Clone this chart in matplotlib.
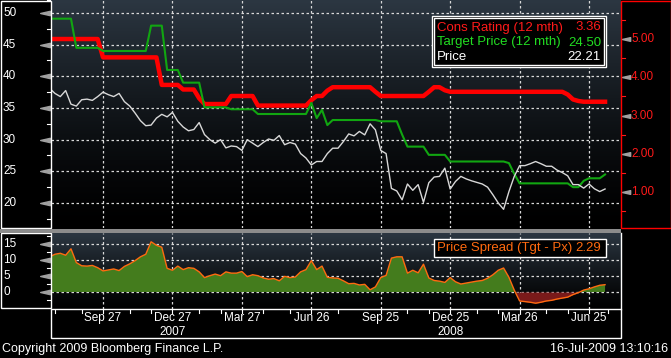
import numpy as np
import pandas as pd
import matplotlib
matplotlib.use('Agg')
import matplotlib.pyplot as plt
import matplotlib.dates as mdates
import matplotlib.transforms as mtrans
from matplotlib.patches import Rectangle
from matplotlib.path import Path

plt.rcParams['font.family'] = ['Liberation Sans', 'DejaVu Sans']

W, H = 671, 358

# weekly data (Thursdays)
dates = pd.date_range('2007-07-19', periods=105, freq='7D')

price = [38.1, 37.3, 36.8, 37.75, 35.6, 35.3, 36.3, 36.4, 36.2, 36.8,
         37.5, 37.1, 36.8, 37.3, 36.0, 35.3, 34.2, 33.0, 32.2, 32.3,
         33.4, 34.0, 33.6, 34.3, 32.9, 32.0, 31.4, 31.6, 32.7, 30.8,
         30.0, 29.45, 30.0, 28.7, 29.0, 28.9, 28.3, 30.0, 29.45, 28.9,
         29.55, 30.1, 29.9, 30.65, 29.2, 29.55, 29.3, 27.8, 27.1, 26.0,
         26.55, 26.55, 27.8, 28.65, 28.65, 29.7, 30.9, 30.6, 31.3, 30.75,
         32.5, 31.55, 28.3, 27.8, 22.3, 21.9, 20.5, 23.0, 22.0, 22.9,
         20.1, 23.2, 24.1, 24.2, 25.5, 22.2, 23.4, 24.2, 23.8, 23.5,
         23.25, 23.0, 22.5, 21.3, 20.0, 19.0, 21.8, 24.2, 25.9, 25.9,
         26.2, 26.55, 26.2, 25.8, 25.8, 25.2, 24.8, 24.3, 22.9, 22.9,
         22.35, 23.0, 22.25, 21.8, 22.21]

target = [49.1, 49.1, 49.1, 49.1, 49.1, 44.5, 44.5, 44.5, 44.5, 44.5,
          44.0, 44.0, 44.0, 44.0, 44.0, 44.0, 44.0, 44.0, 44.0, 48.0,
          48.0, 48.0, 41.0, 41.0, 41.0, 39.0, 39.0, 39.0, 39.0, 35.1,
          35.1, 35.1, 35.1, 35.1, 34.8, 34.8, 34.8, 34.8, 34.8, 34.05,
          34.05, 34.05, 34.05, 34.05, 34.05, 34.05, 34.05, 34.05, 34.05, 35.8,
          33.4, 34.7, 32.3, 33.1, 33.1, 33.1, 33.1, 33.1, 33.1, 33.1,
          33.1, 33.1, 32.9, 32.9, 32.9, 32.9, 30.8, 28.9, 28.9, 28.9,
          28.9, 27.6, 27.6, 27.6, 27.6, 26.55, 26.55, 26.55, 26.55, 26.55,
          26.55, 26.55, 26.55, 26.55, 26.55, 26.55, 26.3, 24.6, 23.1, 23.1,
          23.1, 23.1, 23.1, 23.1, 23.1, 23.1, 23.1, 23.1, 22.5, 22.5,
          23.5, 23.9, 23.9, 23.9, 24.5]

rating = [5.0, 5.0, 5.0, 5.0, 5.0, 5.0, 5.0, 5.0, 5.0, 5.0,
          4.52, 4.52, 4.52, 4.52, 4.52, 4.52, 4.52, 4.52, 4.52, 4.52,
          4.52, 3.80, 3.80, 3.80, 3.80, 3.68, 3.68, 3.68, 3.45, 3.30,
          3.30, 3.30, 3.30, 3.30, 3.51, 3.51, 3.51, 3.51, 3.51, 3.26,
          3.26, 3.26, 3.26, 3.26, 3.26, 3.26, 3.26, 3.26, 3.26, 3.40,
          3.51, 3.51, 3.65, 3.74, 3.74, 3.74, 3.74, 3.74, 3.74, 3.74,
          3.74, 3.62, 3.51, 3.51, 3.51, 3.51, 3.51, 3.51, 3.51, 3.51,
          3.51, 3.62, 3.74, 3.74, 3.66, 3.62, 3.62, 3.62, 3.62, 3.62,
          3.62, 3.62, 3.62, 3.62, 3.62, 3.62, 3.62, 3.62, 3.62, 3.62,
          3.62, 3.62, 3.62, 3.62, 3.62, 3.62, 3.62, 3.55, 3.42, 3.38,
          3.36, 3.36, 3.36, 3.36, 3.36]

spread = np.array([11.0, 11.8, 12.1, 11.5, 13.5, 9.2, 8.2, 8.1, 8.3, 7.6,
                   6.6, 6.9, 7.2, 6.7, 8.0, 8.8, 9.8, 11.0, 11.8, 15.7,
                   14.6, 14.0, 7.4, 6.8, 8.1, 7.0, 7.6, 7.4, 6.3, 4.5,
                   5.1, 5.6, 5.1, 6.3, 5.9, 5.9, 6.4, 4.8, 5.4, 5.1,
                   4.4, 4.0, 4.2, 3.5, 4.9, 4.5, 4.7, 6.3, 7.0, 9.8,
                   7.0, 8.1, 4.6, 4.4, 4.3, 3.5, 2.6, 2.7, 2.2, 2.4,
                   0.7, 1.6, 4.5, 5.2, 10.6, 11.0, 11.0, 5.9, 6.8, 6.0,
                   8.7, 4.4, 3.6, 3.4, 3.0, 4.5, 3.2, 2.5, 2.8, 3.1,
                   3.4, 3.6, 4.3, 5.4, 6.8, 7.5, 4.6, 0.6, -2.8, -3.0,
                   -3.2, -3.5, -3.2, -2.8, -2.6, -2.2, -1.9, -1.6, -0.8, -0.2,
                   0.6, 1.0, 1.6, 2.1, 2.29])

left_ticks = [20, 25, 30, 35, 40, 45, 50]
left_minor = [17.5, 22.5, 27.5, 32.5, 37.5, 42.5, 47.5, 52.0]
right_ticks = [1, 2, 3, 4, 5]
right_minor = [0.5, 1.5, 2.5, 3.5, 4.5, 5.5]
spread_ticks = [0, 5, 10, 15]
spread_minor = [-2.5, 2.5, 7.5, 12.5, 17.5]

major_dates = pd.to_datetime(['2007-09-27', '2007-12-27', '2008-03-27', '2008-06-26',
                              '2008-09-25', '2008-12-25', '2009-03-26', '2009-06-25'])
major_labels = ['Sep 27', 'Dec 27', 'Mar 27', 'Jun 26', 'Sep 25', 'Dec 25', 'Mar 26', 'Jun 25']
minor_dates = pd.to_datetime(['2007-07-26', '2007-08-30', '2007-11-01', '2007-11-29',
                              '2008-01-31', '2008-02-28', '2008-04-24', '2008-05-29',
                              '2008-07-31', '2008-10-30', '2008-11-27', '2009-01-29',
                              '2009-02-26', '2009-04-30', '2009-05-28', '2009-07-20'])
year_labels = ['2007', '2008']
year_dates = pd.to_datetime(['2007-12-27', '2008-12-25'])

legend_names = ['Cons Rating (12 mth)', 'Target Price (12 mth)', 'Price']
legend_values = ['3.36', '24.50', '22.21']
legend_colors = ['#ff1a1a', '#22dd22', 'white']

x_start = pd.Timestamp('2007-09-27') - pd.Timedelta(days=68.2)
x_end = pd.Timestamp('2009-06-25') + pd.Timedelta(days=41.9)


def fx(px):
    return px / W


def fy(py):
    return 1 - py / H


def box(x0, y0, x1, y1, ec, fc='none', lw=1.0, z=5):
    fig.add_artist(Rectangle((fx(x0), fy(y1)), (x1 - x0) / W, (y1 - y0) / H,
                             transform=fig.transFigure, fill=(fc != 'none'),
                             facecolor=fc, edgecolor=ec, lw=lw, zorder=z))


def gradient(a, top, power):
    t = np.linspace(0, 1, 256)[:, None, None]
    img = np.array(top)[None, None, :] / 255 * (1 - t) ** power
    a.imshow(img, extent=[0, 1, 0, 1], transform=a.transAxes, aspect='auto', zorder=0)


tri = Path([(-1, 0), (1, 0.45), (1, -0.45), (-1, 0)], closed=True)

fig = plt.figure(figsize=(W / 100, H / 100), dpi=100, facecolor='black')

ax = fig.add_axes([fx(51), fy(228), 570 / W, 228 / H])
axr = ax.twinx()
axb = fig.add_axes([fx(51), fy(309), 570 / W, 76 / H])

for a in (ax, axr, axb):
    for s in a.spines.values():
        s.set_visible(False)
    a.tick_params(length=0, labelleft=False, labelright=False, labelbottom=False)

gradient(ax, (44, 55, 66), 1.4)
gradient(axb, (44, 55, 66), 1.2)

for a in (ax, axb):
    a.set_xlim(x_start, x_end)
    a.set_xticks(major_dates)
    a.grid(True, color='#d8d8d8', linestyle=(0, (2, 2)), linewidth=0.9, zorder=1)

ax.set_ylim(16.05, 52.05)
ax.set_yticks(left_ticks)
axr.set_ylim(0.059, 6.02)
axr.set_yticks([])
axb.set_ylim(-5.31, 18.44)
axb.set_yticks(spread_ticks)

# main lines
rtrans = mtrans.blended_transform_factory(ax.transData, axr.transData)
ax.plot(dates, rating, transform=rtrans, color='#ff0000', lw=3.2, zorder=3,
        solid_joinstyle='round')
ax.plot(dates, target, color='#11a611', lw=1.5, zorder=4)
ax.plot(dates, price, color='#d8d8d8', lw=1.0, zorder=5)

# spread panel
axb.fill_between(dates, spread, 0, where=spread >= 0, interpolate=True,
                 color='#447c1d', lw=0, zorder=2)
axb.fill_between(dates, spread, 0, where=spread < 0, interpolate=True,
                 color='#7a1a1a', lw=0, zorder=2)
axb.plot(dates, spread, color='#ff6a10', lw=1.0, zorder=3)

# left axis labels and markers
for a, ticks, minor in ((ax, left_ticks, left_minor), (axb, spread_ticks, spread_minor)):
    tr = mtrans.blended_transform_factory(fig.transFigure, a.transData)
    for v in ticks:
        a.text(fx(3), v, str(v), transform=tr, color='white', ha='left', va='center',
               fontsize=8.5, clip_on=False)
    a.plot([fx(45)] * len(ticks), ticks, transform=tr, marker=tri, ls='none',
           color='#a0a0a0', ms=7, clip_on=False)
    for v in minor:
        a.plot([fx(47), fx(50)], [v, v], transform=tr, color='white', lw=0.8, clip_on=False)

# right axis labels
tr = mtrans.blended_transform_factory(fig.transFigure, axr.transData)
for v in right_ticks:
    axr.text(fx(631), v, '%.2f' % v, transform=tr, color='#ff1a1a', ha='left', va='center',
             fontsize=8.5, clip_on=False)
axr.plot([fx(626)] * len(right_ticks), right_ticks, transform=tr, marker=tri, ls='none',
         color='#a0a0a0', ms=6, clip_on=False)
for v in right_minor:
    axr.plot([fx(621), fx(625)], [v, v], transform=tr, color='#ff1a1a', lw=0.8, clip_on=False)

# date axis
dtr = mtrans.blended_transform_factory(ax.transData, fig.transFigure)
for d, lab in zip(major_dates, major_labels):
    ax.text(d, fy(318), lab, transform=dtr, color='white', ha='center', va='center',
            fontsize=8.5, clip_on=False)
for d in list(major_dates) + list(minor_dates):
    ax.plot([d, d], [fy(309), fy(313)], transform=dtr, color='white', lw=0.8, clip_on=False)
for d, lab in zip(year_dates, year_labels):
    ax.text(d, fy(332), lab, transform=dtr, color='white', ha='center', va='center',
            fontsize=8.5, clip_on=False)

# frames
box(0.5, 0.5, 50.5, 228, 'white')
box(0.5, 233, 50.5, 308, 'white')
box(51, 309, 621, 338, 'white')
fig.add_artist(plt.Line2D([fx(621), fx(621)], [fy(233), fy(309)], transform=fig.transFigure,
                          color='white', lw=1))
box(621, 0.5, 670.5, 228, '#ff0000')
box(0, 228.8, 621, 232.8, 'none', fc='#8c8c8c', lw=0)

# legends
box(432, 16, 606, 67, 'white', fc='black', z=6)
box(434, 18, 604, 65, 'white', z=7)
for k, (name, val, col) in enumerate(zip(legend_names, legend_values, legend_colors)):
    y = fy(27.5 + 15 * k)
    fig.text(fx(437), y, name, color=col, ha='left', va='center', fontsize=9.5, zorder=8)
    fig.text(fx(601), y, val, color=col, ha='right', va='center', fontsize=9.5, zorder=8)

box(434, 239, 606, 257, 'white', fc='black', z=6)
fig.text(fx(437), fy(248), 'Price Spread (Tgt - Px)', color='#ff6a10', ha='left',
         va='center', fontsize=9.5, zorder=8)
fig.text(fx(601), fy(248), '2.29', color='#ff6a10', ha='right', va='center',
         fontsize=9.5, zorder=8)

fig.text(fx(2), fy(349), 'Copyright 2009 Bloomberg Finance L.P.', color='white',
         ha='left', va='center', fontsize=9)
fig.text(fx(668), fy(349), '16-Jul-2009 13:10:16', color='white', ha='right',
         va='center', fontsize=9)

fig.savefig('out.png', dpi=100, facecolor='black')
